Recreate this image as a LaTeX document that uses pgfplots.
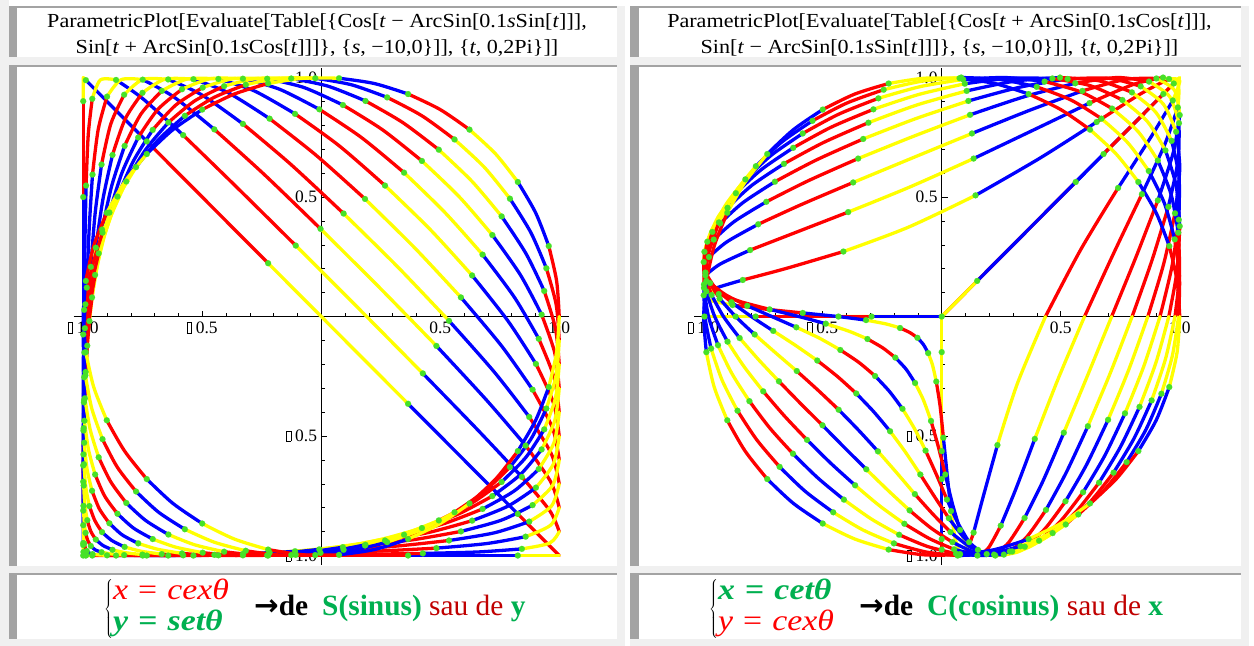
\documentclass[border=0pt]{standalone}
\usepackage{graphicx}
\usepackage{pgfplots}
\pgfplotsset{compat=1.18}
\usepackage{pgfplotstable}
\usepackage{fontspec}
\setmainfont{Liberation Serif}
\newfontfamily\dvs{DejaVu Sans}
\definecolor{cR}{rgb}{1,0,0}
\definecolor{cB}{rgb}{0,0,1}
\definecolor{cY}{rgb}{1,1,0}
\definecolor{cG}{RGB}{70,225,40}
\definecolor{lgray}{RGB}{240,240,240}
\definecolor{dgray}{RGB}{163,163,163}
\definecolor{wgreen}{RGB}{0,176,80}
\definecolor{wdred}{RGB}{192,0,0}
\newcommand{\mi}[1]{\textit{#1}}
\newcommand{\nb}{\raisebox{0.5bp}{\setlength{\fboxsep}{0pt}\setlength{\fboxrule}{0.5bp}\fbox{\rule{0pt}{10bp}\hspace{4bp}}}\hspace{4bp}}
\newcommand{\TL}[1]{\mbox{\fontsize{17.5}{17.5}\selectfont #1}}

% ---- left panel curves: {Cos[t - ArcSin[k Sin t]], Sin[t + ArcSin[k Cos t]]}, t = j*pi/21
\pgfplotstableread[row sep=\\]{x y\\
1 -0.9\\0.960 -0.812\\0.843 -0.671\\0.660 -0.477\\0.427 -0.238\\0.163 0.028\\-0.107 0.297\\-0.362 0.548\\-0.580 0.759\\-0.749 0.911\\-0.862 0.990\\
-0.928 0.990\\-0.962 0.911\\-0.979 0.759\\-0.988 0.548\\-0.993 0.297\\-0.996 0.028\\-0.998 -0.238\\-0.999 -0.477\\-1.000 -0.671\\-1.000 -0.812\\
-1 -0.9\\-1.000 -0.948\\-1.000 -0.972\\-0.999 -0.985\\-0.998 -0.991\\-0.996 -0.995\\-0.993 -0.997\\-0.988 -0.998\\-0.979 -0.999\\-0.962 -1.000\\-0.928 -1.000\\
-0.862 -1.000\\-0.749 -1.000\\-0.580 -0.999\\-0.362 -0.998\\-0.107 -0.997\\0.163 -0.995\\0.427 -0.991\\0.660 -0.985\\0.843 -0.972\\0.960 -0.948\\1 -0.9\\}\Lnine
\pgfplotstableread[row sep=\\]{x y\\
1 -0.8\\0.964 -0.691\\0.859 -0.540\\0.694 -0.349\\0.484 -0.123\\0.245 0.121\\-0.003 0.367\\-0.239 0.594\\-0.449 0.783\\-0.621 0.920\\-0.750 0.991\\
-0.841 0.991\\-0.900 0.920\\-0.937 0.783\\-0.961 0.594\\-0.975 0.367\\-0.985 0.121\\-0.991 -0.123\\-0.996 -0.349\\-0.998 -0.540\\-1.000 -0.691\\
-1 -0.8\\-1.000 -0.873\\-0.998 -0.921\\-0.996 -0.950\\-0.991 -0.969\\-0.985 -0.981\\-0.975 -0.989\\-0.961 -0.994\\-0.937 -0.997\\-0.900 -0.999\\-0.841 -1.000\\
-0.750 -1.000\\-0.621 -0.999\\-0.449 -0.997\\-0.239 -0.994\\-0.003 -0.989\\0.245 -0.981\\0.484 -0.969\\0.694 -0.950\\0.859 -0.921\\0.964 -0.873\\1 -0.8\\}\Leight
\pgfplotstableread[row sep=\\]{x y\\
1 -0.7\\0.968 -0.577\\0.874 -0.420\\0.727 -0.232\\0.537 -0.018\\0.321 0.208\\0.094 0.431\\-0.127 0.636\\-0.329 0.806\\-0.503 0.928\\-0.643 0.992\\
-0.750 0.992\\-0.828 0.928\\-0.884 0.806\\-0.923 0.636\\-0.950 0.431\\-0.968 0.208\\-0.981 -0.018\\-0.990 -0.232\\-0.996 -0.420\\-0.999 -0.577\\
-1 -0.7\\-0.999 -0.792\\-0.996 -0.858\\-0.990 -0.905\\-0.981 -0.937\\-0.968 -0.960\\-0.950 -0.976\\-0.923 -0.986\\-0.884 -0.993\\-0.828 -0.998\\-0.750 -1.000\\
-0.643 -1.000\\-0.503 -0.998\\-0.329 -0.993\\-0.127 -0.986\\0.094 -0.976\\0.321 -0.960\\0.537 -0.937\\0.727 -0.905\\0.874 -0.858\\0.968 -0.792\\1 -0.7\\}\Lseven
\pgfplotstableread[row sep=\\]{x y\\
1 -0.6\\0.972 -0.467\\0.888 -0.306\\0.757 -0.122\\0.587 0.080\\0.392 0.288\\0.184 0.492\\-0.023 0.676\\-0.217 0.828\\-0.390 0.936\\-0.537 0.993\\
-0.657 0.993\\-0.751 0.936\\-0.823 0.828\\-0.877 0.676\\-0.917 0.492\\-0.947 0.288\\-0.968 0.080\\-0.983 -0.122\\-0.993 -0.306\\-0.998 -0.467\\
-1 -0.6\\-0.998 -0.707\\-0.993 -0.789\\-0.983 -0.852\\-0.968 -0.899\\-0.947 -0.933\\-0.917 -0.958\\-0.877 -0.976\\-0.823 -0.988\\-0.751 -0.996\\-0.657 -1.000\\
-0.537 -1.000\\-0.390 -0.996\\-0.217 -0.988\\-0.023 -0.976\\0.184 -0.958\\0.392 -0.933\\0.587 -0.899\\0.757 -0.852\\0.888 -0.789\\0.972 -0.707\\1 -0.6\\}\Lsix
\pgfplotstableread[row sep=\\]{x y\\
1 -0.5\\0.975 -0.359\\0.902 -0.198\\0.785 -0.019\\0.634 0.172\\0.458 0.364\\0.268 0.548\\0.076 0.714\\-0.110 0.848\\-0.281 0.944\\-0.432 0.994\\
-0.562 0.994\\-0.670 0.944\\-0.757 0.848\\-0.826 0.714\\-0.880 0.548\\-0.921 0.364\\-0.951 0.172\\-0.974 -0.019\\-0.989 -0.198\\-0.997 -0.359\\
-1 -0.5\\-0.997 -0.618\\-0.989 -0.716\\-0.974 -0.793\\-0.951 -0.854\\-0.921 -0.902\\-0.880 -0.937\\-0.826 -0.964\\-0.757 -0.982\\-0.670 -0.994\\-0.562 -0.999\\
-0.432 -0.999\\-0.281 -0.994\\-0.110 -0.982\\0.076 -0.964\\0.268 -0.937\\0.458 -0.902\\0.634 -0.854\\0.785 -0.793\\0.902 -0.716\\0.975 -0.618\\1 -0.5\\}\Lfive
\pgfplotstableread[row sep=\\]{x y\\
1 -0.4\\0.978 -0.254\\0.914 -0.093\\0.812 0.080\\0.678 0.259\\0.520 0.435\\0.348 0.602\\0.169 0.749\\-0.008 0.867\\-0.175 0.951\\-0.329 0.995\\
-0.466 0.995\\-0.585 0.951\\-0.686 0.867\\-0.769 0.749\\-0.837 0.602\\-0.890 0.435\\-0.932 0.259\\-0.963 0.080\\-0.984 -0.093\\-0.996 -0.254\\
-1 -0.4\\-0.996 -0.528\\-0.984 -0.638\\-0.963 -0.729\\-0.932 -0.805\\-0.890 -0.865\\-0.837 -0.913\\-0.769 -0.949\\-0.686 -0.974\\-0.585 -0.991\\-0.466 -0.999\\
-0.329 -0.999\\-0.175 -0.991\\-0.008 -0.974\\0.169 -0.949\\0.348 -0.913\\0.520 -0.865\\0.678 -0.805\\0.812 -0.729\\0.914 -0.638\\0.978 -0.528\\1 -0.4\\}\Lfour
\pgfplotstableread[row sep=\\]{x y\\
1 -0.3\\0.981 -0.151\\0.926 0.008\\0.837 0.174\\0.719 0.341\\0.579 0.502\\0.423 0.651\\0.258 0.781\\0.091 0.885\\-0.072 0.958\\-0.227 0.995\\
-0.370 0.995\\-0.498 0.958\\-0.611 0.885\\-0.708 0.781\\-0.789 0.651\\-0.856 0.502\\-0.910 0.341\\-0.950 0.174\\-0.978 0.008\\-0.995 -0.151\\
-1 -0.3\\-0.995 -0.436\\-0.978 -0.556\\-0.950 -0.661\\-0.910 -0.751\\-0.856 -0.825\\-0.789 -0.885\\-0.708 -0.931\\-0.611 -0.965\\-0.498 -0.988\\-0.370 -0.999\\
-0.227 -0.999\\-0.072 -0.988\\0.091 -0.965\\0.258 -0.931\\0.423 -0.885\\0.579 -0.825\\0.719 -0.751\\0.837 -0.661\\0.926 -0.556\\0.981 -0.436\\1 -0.3\\}\Lthree
\pgfplotstableread[row sep=\\]{x y\\
1 -0.2\\0.984 -0.049\\0.937 0.107\\0.860 0.264\\0.758 0.419\\0.634 0.565\\0.494 0.698\\0.342 0.812\\0.186 0.902\\0.028 0.964\\-0.126 0.996\\
-0.272 0.996\\-0.408 0.964\\-0.532 0.902\\-0.642 0.812\\-0.738 0.698\\-0.819 0.565\\-0.884 0.419\\-0.935 0.264\\-0.971 0.107\\-0.993 -0.049\\
-1 -0.2\\-0.993 -0.342\\-0.971 -0.472\\-0.935 -0.589\\-0.884 -0.692\\-0.819 -0.780\\-0.738 -0.853\\-0.642 -0.912\\-0.532 -0.955\\-0.408 -0.984\\-0.272 -0.998\\
-0.126 -0.998\\0.028 -0.984\\0.186 -0.955\\0.342 -0.912\\0.494 -0.853\\0.634 -0.780\\0.758 -0.692\\0.860 -0.589\\0.937 -0.472\\0.984 -0.342\\1 -0.2\\}\Ltwo
\pgfplotstableread[row sep=\\]{x y\\
1 -0.1\\0.987 0.051\\0.946 0.202\\0.881 0.351\\0.793 0.493\\0.685 0.625\\0.560 0.741\\0.423 0.840\\0.277 0.917\\0.126 0.970\\-0.025 0.997\\
-0.174 0.997\\-0.317 0.970\\-0.450 0.917\\-0.573 0.840\\-0.683 0.741\\-0.778 0.625\\-0.857 0.493\\-0.919 0.351\\-0.964 0.202\\-0.991 0.051\\
-1 -0.1\\-0.991 -0.246\\-0.964 -0.385\\-0.919 -0.513\\-0.857 -0.630\\-0.778 -0.732\\-0.683 -0.819\\-0.573 -0.890\\-0.450 -0.944\\-0.317 -0.980\\-0.174 -0.998\\
-0.025 -0.998\\0.126 -0.980\\0.277 -0.944\\0.423 -0.890\\0.560 -0.819\\0.685 -0.732\\0.793 -0.630\\0.881 -0.513\\0.946 -0.385\\0.987 -0.246\\1 -0.1\\}\Lone
\pgfplotstableread[row sep=\\]{x y\\
1 0\\0.989 0.149\\0.956 0.295\\0.901 0.434\\0.826 0.563\\0.733 0.680\\0.623 0.782\\0.5 0.866\\0.365 0.931\\0.223 0.975\\0.075 0.997\\
-0.075 0.997\\-0.223 0.975\\-0.365 0.931\\-0.5 0.866\\-0.623 0.782\\-0.733 0.680\\-0.826 0.563\\-0.901 0.434\\-0.956 0.295\\-0.989 0.149\\
-1 0\\-0.989 -0.149\\-0.956 -0.295\\-0.901 -0.434\\-0.826 -0.563\\-0.733 -0.680\\-0.623 -0.782\\-0.5 -0.866\\-0.365 -0.931\\-0.223 -0.975\\-0.075 -0.997\\
0.075 -0.997\\0.223 -0.975\\0.365 -0.931\\0.5 -0.866\\0.623 -0.782\\0.733 -0.680\\0.826 -0.563\\0.901 -0.434\\0.956 -0.295\\0.989 -0.149\\1 0\\}\Czero

% ---- right panel curves: {Cos[t + ArcSin[k Cos t]], Sin[t - ArcSin[k Sin t]]}
\pgfplotstableread[row sep=\\]{x y\\
0.436 0\\0.584 0.280\\0.741 0.538\\0.879 0.751\\0.971 0.904\\1.000 0.987\\0.955 0.994\\0.836 0.932\\0.651 0.814\\0.413 0.663\\0.142 0.507\\
-0.142 0.373\\-0.413 0.272\\-0.651 0.202\\-0.836 0.153\\-0.955 0.117\\-1.000 0.089\\-0.971 0.067\\-0.879 0.048\\-0.741 0.031\\-0.584 0.015\\
-0.436 0\\-0.318 -0.015\\-0.234 -0.031\\-0.175 -0.048\\-0.134 -0.067\\-0.102 -0.089\\-0.077 -0.117\\-0.057 -0.153\\-0.039 -0.202\\-0.023 -0.272\\-0.007 -0.373\\
0.007 -0.507\\0.023 -0.663\\0.039 -0.814\\0.057 -0.932\\0.077 -0.994\\0.102 -0.987\\0.134 -0.904\\0.175 -0.751\\0.234 -0.538\\0.318 -0.280\\0.436 0\\}\Rnine
\pgfplotstableread[row sep=\\]{x y\\
0.6 0\\0.723 0.266\\0.841 0.512\\0.937 0.720\\0.992 0.875\\0.993 0.970\\0.930 1.000\\0.805 0.971\\0.621 0.893\\0.393 0.784\\0.134 0.661\\
-0.134 0.542\\-0.393 0.437\\-0.621 0.349\\-0.805 0.278\\-0.930 0.220\\-0.993 0.172\\-0.992 0.131\\-0.937 0.094\\-0.841 0.061\\-0.723 0.030\\
-0.6 0\\-0.487 -0.030\\-0.391 -0.061\\-0.312 -0.094\\-0.248 -0.131\\-0.195 -0.172\\-0.150 -0.220\\-0.112 -0.278\\-0.077 -0.349\\-0.045 -0.437\\-0.015 -0.542\\
0.015 -0.661\\0.045 -0.784\\0.077 -0.893\\0.112 -0.971\\0.150 -1.000\\0.195 -0.970\\0.248 -0.875\\0.312 -0.720\\0.391 -0.512\\0.487 -0.266\\0.6 0\\}\Reight
\pgfplotstableread[row sep=\\]{x y\\
0.714 0\\0.817 0.251\\0.908 0.486\\0.973 0.687\\1.000 0.843\\0.978 0.947\\0.902 0.996\\0.771 0.992\\0.591 0.944\\0.372 0.864\\0.127 0.766\\
-0.127 0.662\\-0.372 0.561\\-0.591 0.468\\-0.771 0.386\\-0.902 0.313\\-0.978 0.249\\-1.000 0.192\\-0.973 0.140\\-0.908 0.091\\-0.817 0.045\\
-0.714 0\\-0.611 -0.045\\-0.513 -0.091\\-0.426 -0.140\\-0.348 -0.192\\-0.280 -0.249\\-0.220 -0.313\\-0.165 -0.386\\-0.115 -0.468\\-0.068 -0.561\\-0.022 -0.662\\
0.022 -0.766\\0.068 -0.864\\0.115 -0.944\\0.165 -0.992\\0.220 -0.996\\0.280 -0.947\\0.348 -0.843\\0.426 -0.687\\0.513 -0.486\\0.611 -0.251\\0.714 0\\}\Rseven
\pgfplotstableread[row sep=\\]{x y\\
0.8 0\\0.884 0.237\\0.952 0.459\\0.993 0.653\\0.997 0.809\\0.958 0.920\\0.871 0.983\\0.737 1.000\\0.561 0.976\\0.351 0.921\\0.119 0.844\\
-0.119 0.754\\-0.351 0.661\\-0.561 0.568\\-0.737 0.480\\-0.871 0.398\\-0.958 0.322\\-0.997 0.251\\-0.993 0.184\\-0.952 0.121\\-0.884 0.060\\
-0.8 0\\-0.708 -0.060\\-0.614 -0.121\\-0.523 -0.184\\-0.438 -0.251\\-0.359 -0.322\\-0.286 -0.398\\-0.217 -0.480\\-0.152 -0.568\\-0.090 -0.661\\-0.030 -0.754\\
0.030 -0.844\\0.090 -0.921\\0.152 -0.976\\0.217 -1.000\\0.286 -0.983\\0.359 -0.920\\0.438 -0.809\\0.523 -0.653\\0.614 -0.459\\0.708 -0.237\\0.8 0\\}\Rsix
\pgfplotstableread[row sep=\\]{x y\\
0.866 0\\0.933 0.222\\0.980 0.432\\1.000 0.619\\0.985 0.773\\0.931 0.889\\0.836 0.963\\0.701 0.997\\0.529 0.994\\0.330 0.960\\0.112 0.902\\
-0.112 0.827\\-0.330 0.743\\-0.529 0.654\\-0.701 0.564\\-0.836 0.476\\-0.931 0.390\\-0.985 0.308\\-1.000 0.228\\-0.980 0.151\\-0.933 0.075\\
-0.866 0\\-0.786 -0.075\\-0.699 -0.151\\-0.609 -0.228\\-0.520 -0.308\\-0.433 -0.390\\-0.349 -0.476\\-0.268 -0.564\\-0.189 -0.654\\-0.113 -0.743\\-0.037 -0.827\\
0.037 -0.902\\0.113 -0.960\\0.189 -0.994\\0.268 -0.997\\0.349 -0.963\\0.433 -0.889\\0.520 -0.773\\0.609 -0.619\\0.699 -0.432\\0.786 -0.222\\0.866 0\\}\Rfive
\pgfplotstableread[row sep=\\]{x y\\
0.917 0\\0.967 0.208\\0.996 0.405\\0.997 0.584\\0.966 0.735\\0.900 0.854\\0.799 0.938\\0.663 0.986\\0.497 1.000\\0.308 0.985\\0.105 0.944\\
-0.105 0.885\\-0.308 0.811\\-0.497 0.728\\-0.663 0.639\\-0.799 0.548\\-0.900 0.455\\-0.966 0.363\\-0.997 0.271\\-0.996 0.180\\-0.967 0.090\\
-0.917 0\\-0.849 -0.090\\-0.770 -0.180\\-0.684 -0.271\\-0.594 -0.363\\-0.501 -0.455\\-0.409 -0.548\\-0.317 -0.639\\-0.225 -0.728\\-0.135 -0.811\\-0.045 -0.885\\
0.045 -0.944\\0.135 -0.985\\0.225 -1.000\\0.317 -0.986\\0.409 -0.938\\0.501 -0.854\\0.594 -0.735\\0.684 -0.584\\0.770 -0.405\\0.849 -0.208\\0.917 0\\}\Rfour
\pgfplotstableread[row sep=\\]{x y\\
0.954 0\\0.989 0.193\\1.000 0.378\\0.985 0.547\\0.940 0.695\\0.865 0.815\\0.759 0.906\\0.624 0.966\\0.465 0.996\\0.287 0.997\\0.097 0.974\\
-0.097 0.929\\-0.287 0.867\\-0.465 0.792\\-0.624 0.706\\-0.759 0.614\\-0.865 0.516\\-0.940 0.416\\-0.985 0.313\\-1.000 0.209\\-0.989 0.105\\
-0.954 0\\-0.900 -0.105\\-0.831 -0.209\\-0.750 -0.313\\-0.661 -0.416\\-0.566 -0.516\\-0.466 -0.614\\-0.364 -0.706\\-0.261 -0.792\\-0.157 -0.867\\-0.052 -0.929\\
0.052 -0.974\\0.157 -0.997\\0.261 -0.996\\0.364 -0.966\\0.466 -0.906\\0.566 -0.815\\0.661 -0.695\\0.750 -0.547\\0.831 -0.378\\0.900 -0.193\\0.954 0\\}\Rthree
\pgfplotstableread[row sep=\\]{x y\\
0.980 0\\0.999 0.178\\0.994 0.351\\0.964 0.510\\0.908 0.653\\0.825 0.774\\0.716 0.870\\0.584 0.940\\0.432 0.983\\0.266 1.000\\0.090 0.992\\
-0.090 0.962\\-0.266 0.913\\-0.432 0.847\\-0.584 0.766\\-0.716 0.675\\-0.825 0.574\\-0.908 0.467\\-0.964 0.354\\-0.994 0.238\\-0.999 0.120\\
-0.980 0\\-0.940 -0.120\\-0.882 -0.238\\-0.808 -0.354\\-0.722 -0.467\\-0.625 -0.574\\-0.521 -0.675\\-0.411 -0.766\\-0.296 -0.847\\-0.179 -0.913\\-0.060 -0.962\\
0.060 -0.992\\0.179 -1.000\\0.296 -0.983\\0.411 -0.940\\0.521 -0.870\\0.625 -0.774\\0.722 -0.653\\0.808 -0.510\\0.882 -0.351\\0.940 -0.178\\0.980 0\\}\Rtwo
\pgfplotstableread[row sep=\\]{x y\\
0.995 0\\0.999 0.164\\0.979 0.323\\0.936 0.473\\0.870 0.609\\0.781 0.728\\0.671 0.828\\0.543 0.906\\0.399 0.961\\0.244 0.992\\0.082 1.000\\
-0.082 0.985\\-0.244 0.949\\-0.399 0.893\\-0.543 0.819\\-0.671 0.731\\-0.781 0.629\\-0.870 0.516\\-0.936 0.394\\-0.979 0.266\\-0.999 0.134\\
-0.995 0\\-0.969 -0.134\\-0.923 -0.266\\-0.858 -0.394\\-0.777 -0.516\\-0.681 -0.629\\-0.574 -0.731\\-0.456 -0.819\\-0.331 -0.893\\-0.201 -0.949\\-0.067 -0.985\\
0.067 -1.000\\0.201 -0.992\\0.331 -0.961\\0.456 -0.906\\0.574 -0.828\\0.681 -0.728\\0.777 -0.609\\0.858 -0.473\\0.923 -0.323\\0.969 -0.164\\0.995 0\\}\Rone

\pgfplotsset{
  paxis/.style={
    anchor=south west, scale only axis, width=495.04bp, height=497.12bp,
    xmin=-1.04, xmax=1.04, ymin=-1.04, ymax=1.04,
    axis lines=middle,
    axis line style={-, black, line width=0.6bp},
    every inner x axis line/.append style={-},
    every inner y axis line/.append style={-},
    xtick={-1,-0.5,0.5,1}, ytick={-1,-0.5,0.5,1},
    xticklabels={\TL{\nb1.0},\TL{\nb0.5},\TL{0.5},\TL{1.0}},
    yticklabels={\TL{\nb1.0},\TL{\nb0.5},\TL{0.5},\TL{1.0}},
    minor xtick={-0.9,-0.8,-0.7,-0.6,-0.4,-0.3,-0.2,-0.1,0.1,0.2,0.3,0.4,0.6,0.7,0.8,0.9},
    minor ytick={-0.9,-0.8,-0.7,-0.6,-0.4,-0.3,-0.2,-0.1,0.1,0.2,0.3,0.4,0.6,0.7,0.8,0.9},
    tick align=inside,
    major tick length=6bp, minor tick length=3.5bp,
    tick style={black, line width=0.5bp},
    tick label style={inner sep=1bp},
    xticklabel style={yshift=-4bp},
    yticklabel style={xshift=-3bp},
    clip=false, unbounded coords=jump,
    every axis plot/.append style={line width=3.3bp, line join=round, line cap=round},
  },
}
\newcommand{\curve}[1]{%
  \addplot[cR, smooth, restrict expr to domain={mod(\coordindex,6)}{-0.1:2.1}, skip coords between index={42}{43}] table {#1};
  \addplot[cB, smooth, restrict expr to domain={mod(\coordindex+4,6)}{-0.1:2.1}] table {#1};
  \addplot[cY, smooth, restrict expr to domain={mod(\coordindex+2,6)}{-0.1:2.1}, skip coords between index={0}{1}] table {#1};
}
\newcommand{\meshdots}[1]{%
  \addplot[only marks, mark=*, color=cG, line width=0.1bp, mark size=3bp, restrict expr to domain={mod(\coordindex,2)}{-0.5:0.5}, skip coords between index={0}{1}, skip coords between index={42}{43}] table {#1};
}
\newcommand{\seg}[2]{\addplot[#1, sharp plot] coordinates {#2};}
\newcommand{\dotlist}[1]{\addplot[only marks, mark=*, color=cG, line width=0.1bp, mark size=3bp] coordinates {#1};}
\newcommand{\cell}[4]{%
  \fill[lgray] (#1,646-#4-8) rectangle (#3+8,646-#2);
  \fill[white] (#1,646-#4) rectangle (#3,646-#2);
  \fill[dgray] (#1,646-#4) rectangle (#1+8.5,646-#2);
  \fill[dgray] (#1,646-#2-2) rectangle (#3,646-#2);
}
\newcommand{\tf}{\fontsize{20}{24}\selectfont}
\newcommand{\bt}{\fontsize{29.5}{31}\selectfont}

\begin{document}
\begin{tikzpicture}
\path[use as bounding box] (0bp,0bp) rectangle (1254bp,646bp);
\begin{scope}[x=1bp,y=1bp]
\fill[white] (0,0) rectangle (1254,646);
\fill[lgray] (0,0) rectangle (8.5,646);
\cell{8.5}{6}{617}{57}
\cell{630}{6}{1241}{57}
\cell{8.5}{65}{617}{566}
\cell{630}{65}{1241}{566}
\cell{8.5}{573}{617}{639}
\cell{630}{573}{1241}{639}
\node[anchor=base, inner sep=0pt] at (317,618.7) {\tf\scalebox{1.11}[1]{ParametricPlot[Evaluate[Table[\{Cos[\mi{t} − ArcSin[0.1\mi{s}Sin[\mi{t}]]],}};
\node[anchor=base, inner sep=0pt] at (317,592.7) {\tf\scalebox{1.11}[1]{Sin[\mi{t} + ArcSin[0.1\mi{s}Cos[\mi{t}]]]\}, \{\mi{s}, −10,0\}]], \{\mi{t}, 0,2Pi\}]]}};
\node[anchor=base, inner sep=0pt] at (939.5,618.7) {\tf\scalebox{1.11}[1]{ParametricPlot[Evaluate[Table[\{Cos[\mi{t} + ArcSin[0.1\mi{s}Cos[\mi{t}]]],}};
\node[anchor=base, inner sep=0pt] at (939.5,592.7) {\tf\scalebox{1.11}[1]{Sin[\mi{t} − ArcSin[0.1\mi{s}Sin[\mi{t}]]]\}, \{\mi{s}, −10,0\}]], \{\mi{t}, 0,2Pi\}]]}};
\node[anchor=west, inner sep=0pt] at (104,37) {\bt$\left\{\begin{tabular}{@{}l@{}}\textcolor{red}{\scalebox{1.15}[1]{\mi{x}\hspace{0.3em}=\hspace{0.3em}\mi{cexθ}}}\\\textcolor{wgreen}{\bfseries\scalebox{1.15}[1]{\mi{y}\hspace{0.3em}=\hspace{0.3em}\mi{setθ}}}\end{tabular}\right.$};
\node[anchor=base west, inner sep=0pt] at (254,31) {\bt{\dvs\bfseries →}\textbf{de}\hspace{14bp}\textcolor{wgreen}{\textbf{S(sinus)}} \textcolor{wdred}{sau de} \textcolor{wgreen}{\textbf{y}}};
\node[anchor=west, inner sep=0pt] at (709,37) {\bt$\left\{\begin{tabular}{@{}l@{}}\textcolor{wgreen}{\bfseries\scalebox{1.15}[1]{\mi{x}\hspace{0.3em}=\hspace{0.3em}\mi{cetθ}}}\\\textcolor{red}{\scalebox{1.15}[1]{\mi{y}\hspace{0.3em}=\hspace{0.3em}\mi{cexθ}}}\end{tabular}\right.$};
\node[anchor=base west, inner sep=0pt] at (859,31) {\bt{\dvs\bfseries →}\textbf{de}\hspace{14bp}\textcolor{wgreen}{\textbf{C(cosinus)}} \textcolor{wdred}{sau de} \textcolor{wgreen}{\textbf{x}}};
\end{scope}

% left plot
\begin{axis}[paxis, at={(73.7bp,80.9bp)}]
\seg{cR}{(1,-1) (0.956,-0.956) (0.826,-0.826)}
\seg{cB}{(0.826,-0.826) (0.623,-0.623) (0.365,-0.365)}
\seg{cY}{(0.365,-0.365) (0.075,-0.075) (-0.223,0.223)}
\seg{cR}{(-0.223,0.223) (-0.5,0.5) (-0.733,0.733)}
\seg{cB}{(-0.733,0.733) (-0.901,0.901) (-0.989,0.989)}
\seg{cY}{(-0.989,0.989) (-1,1) (-1,0.989) (-1,0.901)}
\seg{cR}{(-1,0.901) (-1,0.733) (-1,0.5)}
\seg{cB}{(-1,0.5) (-1,0.223) (-1,-0.075)}
\seg{cY}{(-1,-0.075) (-1,-0.365) (-1,-0.623)}
\seg{cR}{(-1,-0.623) (-1,-0.826) (-1,-0.956)}
\seg{cB}{(-1,-0.956) (-1,-1)}
\seg{cR}{(-1,-1) (-0.989,-1)}
\seg{cB}{(-0.989,-1) (-0.901,-1) (-0.733,-1)}
\seg{cY}{(-0.733,-1) (-0.5,-1) (-0.223,-1)}
\seg{cR}{(-0.223,-1) (0.075,-1) (0.365,-1)}
\seg{cB}{(0.365,-1) (0.623,-1) (0.826,-1)}
\seg{cY}{(0.826,-1) (0.956,-1) (1,-1)}
\curve{\Lnine}\curve{\Leight}\curve{\Lseven}\curve{\Lsix}\curve{\Lfive}
\curve{\Lfour}\curve{\Lthree}\curve{\Ltwo}\curve{\Lone}\curve{\Czero}
\dotlist{(0.826,-0.826) (0.365,-0.365) (-0.223,0.223) (-0.733,0.733) (-0.989,0.989) (-1,0.901) (-1,0.5) (-1,-0.075) (-1,-0.623) (-1,-0.956) (-1,-1) (-0.989,-1) (-0.733,-1) (-0.223,-1) (0.365,-1) (0.826,-1)}
\meshdots{\Lnine}\meshdots{\Leight}\meshdots{\Lseven}\meshdots{\Lsix}\meshdots{\Lfive}
\meshdots{\Lfour}\meshdots{\Lthree}\meshdots{\Ltwo}\meshdots{\Lone}\meshdots{\Czero}
\end{axis}

% right plot
\begin{axis}[paxis, at={(694.2bp,80.9bp)}]
\seg{cR}{(0,0) (0.295,0.295) (0.563,0.563)}
\seg{cB}{(0.563,0.563) (0.782,0.782) (0.931,0.931)}
\seg{cY}{(0.931,0.931) (0.997,0.997) (1,1) (0.975,0.975)}
\seg{cR}{(0.975,0.975) (0.866,0.866) (0.680,0.680)}
\seg{cB}{(0.680,0.680) (0.434,0.434) (0.149,0.149)}
\seg{cY}{(0.149,0.149) (0,0) (-0.149,0) (-0.434,0)}
\seg{cR}{(-0.434,0) (-0.680,0) (-0.866,0)}
\seg{cB}{(-0.866,0) (-0.975,0) (-1,0) (-0.997,0)}
\seg{cY}{(-0.997,0) (-0.931,0) (-0.782,0)}
\seg{cR}{(-0.782,0) (-0.563,0) (-0.295,0)}
\seg{cB}{(-0.295,0) (0,0)}
\seg{cR}{(0,0) (0,-0.149)}
\seg{cB}{(0,-0.149) (0,-0.434) (0,-0.680)}
\seg{cY}{(0,-0.680) (0,-0.866) (0,-0.975)}
\seg{cR}{(0,-0.975) (0,-0.997) (0,-1) (0,-0.931)}
\seg{cB}{(0,-0.931) (0,-0.782) (0,-0.563)}
\seg{cY}{(0,-0.563) (0,-0.295) (0,0)}
\curve{\Rnine}\curve{\Reight}\curve{\Rseven}\curve{\Rsix}\curve{\Rfive}
\curve{\Rfour}\curve{\Rthree}\curve{\Rtwo}\curve{\Rone}\curve{\Czero}
\dotlist{(0.563,0.563) (0.931,0.931) (0.975,0.975) (0.680,0.680) (0.149,0.149) (-0.434,0) (-0.866,0) (-0.997,0) (-0.782,0) (-0.295,0) (0,0) (0,-0.149) (0,-0.680) (0,-0.975) (0,-0.931) (0,-0.563)}
\meshdots{\Rnine}\meshdots{\Reight}\meshdots{\Rseven}\meshdots{\Rsix}\meshdots{\Rfive}
\meshdots{\Rfour}\meshdots{\Rthree}\meshdots{\Rtwo}\meshdots{\Rone}\meshdots{\Czero}
\end{axis}
\end{tikzpicture}
\end{document}
